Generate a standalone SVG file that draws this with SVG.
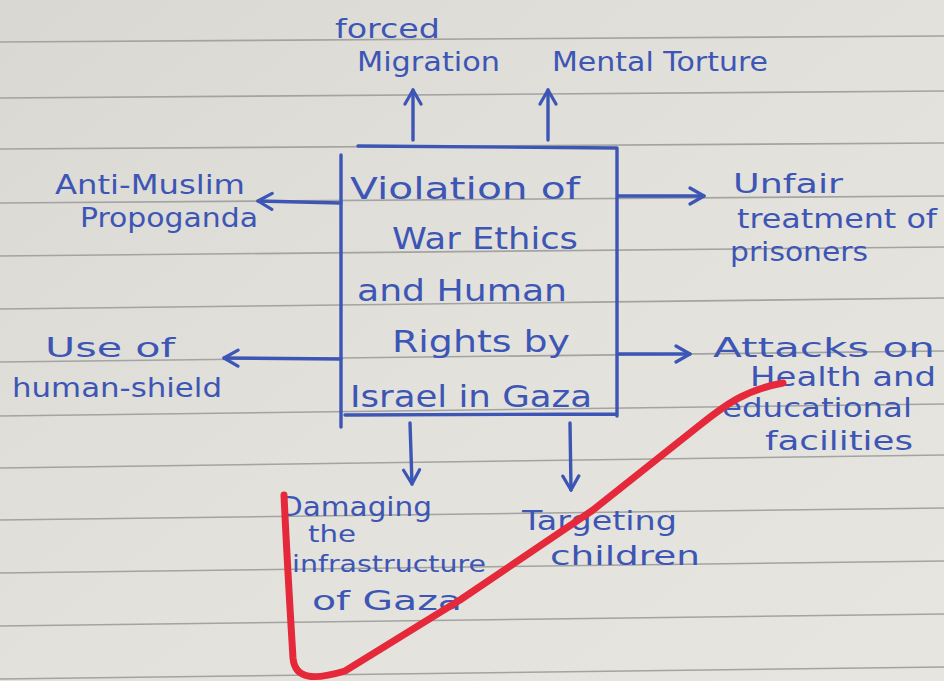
<svg xmlns="http://www.w3.org/2000/svg" width="944" height="681" viewBox="0 0 944 681">
<defs>
<linearGradient id="paper" x1="0" y1="0" x2="1" y2="1">
<stop offset="0" stop-color="#d9d8d3"/>
<stop offset="0.5" stop-color="#e2e1dc"/>
<stop offset="1" stop-color="#e6e5e0"/>
</linearGradient>
<marker id="ah" viewBox="0 0 20 20" refX="16" refY="10" markerWidth="20" markerHeight="20" markerUnits="userSpaceOnUse" orient="auto">
<path d="M2,2 L16,10 L2,18" fill="none" stroke="#3d56b5" stroke-width="3.2" stroke-linecap="round" stroke-linejoin="round"/>
</marker>
</defs>
<style>
.rule{stroke:#a3a3a1;stroke-width:1.6;fill:none}
.ink{stroke:#3d56b5;stroke-width:3.4;fill:none;stroke-linecap:round}
.t{font-family:"DejaVu Sans",sans-serif;fill:#3d56b5;font-size:26px}
.b{font-size:31px}
.s{font-size:23px}
</style>
<rect width="944" height="681" fill="url(#paper)"/>
<g id="rules">
<line class="rule" x1="0" y1="42" x2="944" y2="36"/>
<line class="rule" x1="0" y1="98" x2="944" y2="91"/>
<line class="rule" x1="0" y1="149" x2="944" y2="143"/>
<line class="rule" x1="0" y1="203" x2="944" y2="196"/>
<line class="rule" x1="0" y1="256" x2="944" y2="247"/>
<line class="rule" x1="0" y1="309" x2="944" y2="298"/>
<line class="rule" x1="0" y1="362" x2="944" y2="351"/>
<line class="rule" x1="0" y1="416" x2="944" y2="404"/>
<line class="rule" x1="0" y1="468" x2="944" y2="455"/>
<line class="rule" x1="0" y1="520" x2="944" y2="508"/>
<line class="rule" x1="0" y1="573" x2="944" y2="561"/>
<line class="rule" x1="0" y1="626" x2="944" y2="614"/>
<line class="rule" x1="0" y1="679" x2="944" y2="667"/>
</g>
<g id="connectors">
<line class="ink" x1="413" y1="140" x2="413" y2="90" marker-end="url(#ah)"/>
<line class="ink" x1="548" y1="140" x2="548" y2="90" marker-end="url(#ah)"/>
<line class="ink" x1="341" y1="203" x2="258" y2="201" marker-end="url(#ah)"/>
<line class="ink" x1="341" y1="359" x2="224" y2="358" marker-end="url(#ah)"/>
<line class="ink" x1="618" y1="196" x2="704" y2="196" marker-end="url(#ah)"/>
<line class="ink" x1="618" y1="354" x2="690" y2="354" marker-end="url(#ah)"/>
<line class="ink" x1="410" y1="423" x2="412" y2="484" marker-end="url(#ah)"/>
<line class="ink" x1="570" y1="423" x2="571" y2="490" marker-end="url(#ah)"/>
</g>
<g id="center">
<path class="ink" d="M358,146 L617,148 M341,155 L341,427 M617,148 L617,416 M345,415 L617,414" stroke-width="3.6"/>
<text class="t b" x="350" y="199" textLength="230" lengthAdjust="spacingAndGlyphs">Violation of</text>
<text class="t b" x="392" y="249" textLength="186" lengthAdjust="spacingAndGlyphs">War Ethics</text>
<text class="t b" x="357" y="301" textLength="210" lengthAdjust="spacingAndGlyphs">and Human</text>
<text class="t b" x="392" y="352" textLength="178" lengthAdjust="spacingAndGlyphs">Rights by</text>
<text class="t b" x="350" y="407" textLength="242" lengthAdjust="spacingAndGlyphs">Israel in Gaza</text>
</g>
<g id="forced-migration">
<text class="t" x="335" y="38" textLength="105" lengthAdjust="spacingAndGlyphs">forced</text>
<text class="t" x="357" y="71" textLength="143" lengthAdjust="spacingAndGlyphs">Migration</text>
</g>
<g id="mental-torture">
<text class="t" x="552" y="71" textLength="216" lengthAdjust="spacingAndGlyphs">Mental Torture</text>
</g>
<g id="anti-muslim">
<text class="t" x="55" y="194" textLength="190" lengthAdjust="spacingAndGlyphs">Anti-Muslim</text>
<text class="t" x="80" y="227" textLength="178" lengthAdjust="spacingAndGlyphs">Propoganda</text>
</g>
<g id="human-shield">
<text class="t" x="45" y="357" textLength="130" lengthAdjust="spacingAndGlyphs">Use of</text>
<text class="t" x="12" y="397" textLength="210" lengthAdjust="spacingAndGlyphs">human-shield</text>
</g>
<g id="prisoners">
<text class="t" x="733" y="193" textLength="110" lengthAdjust="spacingAndGlyphs">Unfair</text>
<text class="t" x="737" y="228" textLength="200" lengthAdjust="spacingAndGlyphs">treatment of</text>
<text class="t" x="730" y="261" textLength="138" lengthAdjust="spacingAndGlyphs">prisoners</text>
</g>
<g id="attacks">
<text class="t" x="713" y="357" textLength="222" lengthAdjust="spacingAndGlyphs">Attacks on</text>
<text class="t" x="750" y="386" textLength="186" lengthAdjust="spacingAndGlyphs">Health and</text>
<text class="t" x="722" y="417" textLength="190" lengthAdjust="spacingAndGlyphs">educational</text>
<text class="t" x="765" y="450" textLength="148" lengthAdjust="spacingAndGlyphs">facilities</text>
</g>
<g id="infrastructure">
<text class="t" x="280" y="516" textLength="152" lengthAdjust="spacingAndGlyphs">Damaging</text>
<text class="t s" x="308" y="542" textLength="48" lengthAdjust="spacingAndGlyphs">the</text>
<text class="t s" x="292" y="572" textLength="194" lengthAdjust="spacingAndGlyphs">infrastructure</text>
<text class="t" x="312" y="610" textLength="150" lengthAdjust="spacingAndGlyphs">of Gaza</text>
</g>
<g id="children">
<text class="t" x="522" y="530" textLength="155" lengthAdjust="spacingAndGlyphs">Targeting</text>
<text class="t" x="550" y="565" textLength="150" lengthAdjust="spacingAndGlyphs">children</text>
</g>
<path d="M284,495 C287,560 291,625 293,658 C295,680 315,680 345,671 L460,600 L593,510 L700,425 C725,405 745,390 783,383" fill="none" stroke="#e6283b" stroke-width="7" stroke-linecap="round" stroke-linejoin="round"/>
</svg>
